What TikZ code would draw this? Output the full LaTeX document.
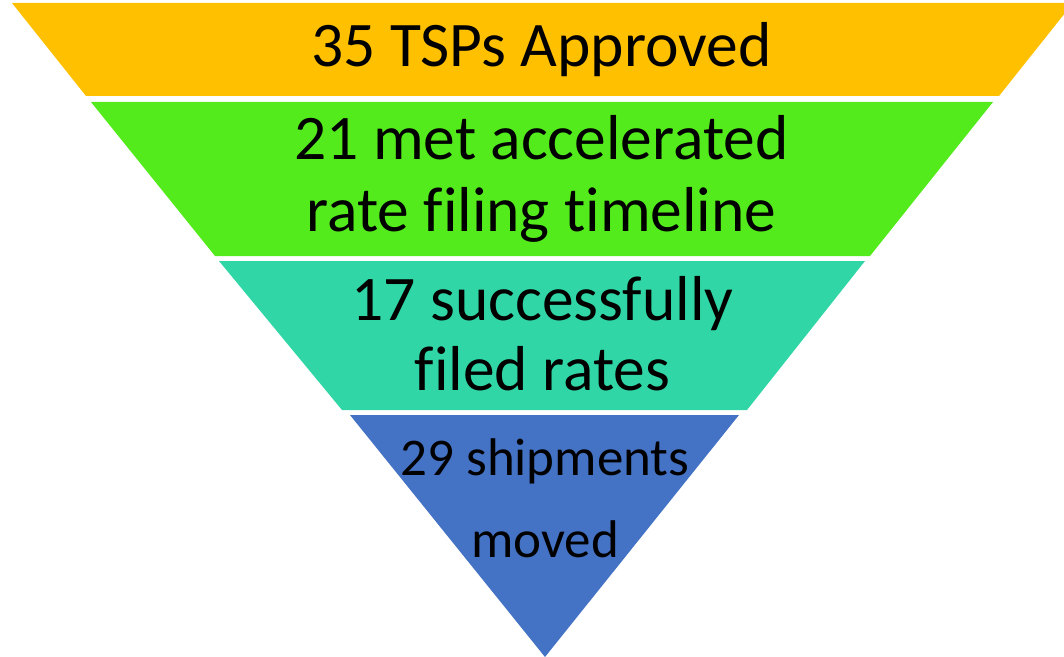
\documentclass[tikz,border=0pt]{standalone}
\usepackage{fontspec}
\setmainfont{Carlito}[Ligatures=NoCommon]
\definecolor{tierA}{RGB}{255,192,0}
\definecolor{tierB}{RGB}{83,235,28}
\definecolor{tierC}{RGB}{48,214,165}
\definecolor{tierD}{RGB}{68,114,196}
\begin{document}
\begin{tikzpicture}[x=1bp,y=-1bp,
  label/.style={anchor=base,inner sep=0pt,text=black},
  big/.style={label,font=\fontsize{63.5bp}{76bp}\selectfont},
  small/.style={label,font=\fontsize{53bp}{64bp}\selectfont}]
\useasboundingbox (0,0) rectangle (1064,657);
% funnel tiers, top to bottom
\fill[tierA] (12,3) -- (1073,3) -- (999,96) -- (86,96) -- cycle;
\fill[tierB] (91,102) -- (993,102) -- (870,256) -- (215,256) -- cycle;
\fill[tierC] (219,261) -- (865,261) -- (747,410) -- (342,410) -- cycle;
\fill[tierD] (350,415) -- (739,415) -- (545,657) -- cycle;
% tier captions
\node[big] (a1) at (541.5,67) {35 TSPs Approved};
\node[big] (b1) at (541.5,160) {21 met accelerated};
\node[big] (b2) at (541.5,231) {rate filing timeline};
\node[big] (c1) at (542.5,320) {17 successfully};
\node[big] (c2) at (542.5,390) {filed rates};
\node[small] (d1) at (545,475) {29 shipments};
\node[small] (d2) at (545,557) {moved};
\end{tikzpicture}
\end{document}
